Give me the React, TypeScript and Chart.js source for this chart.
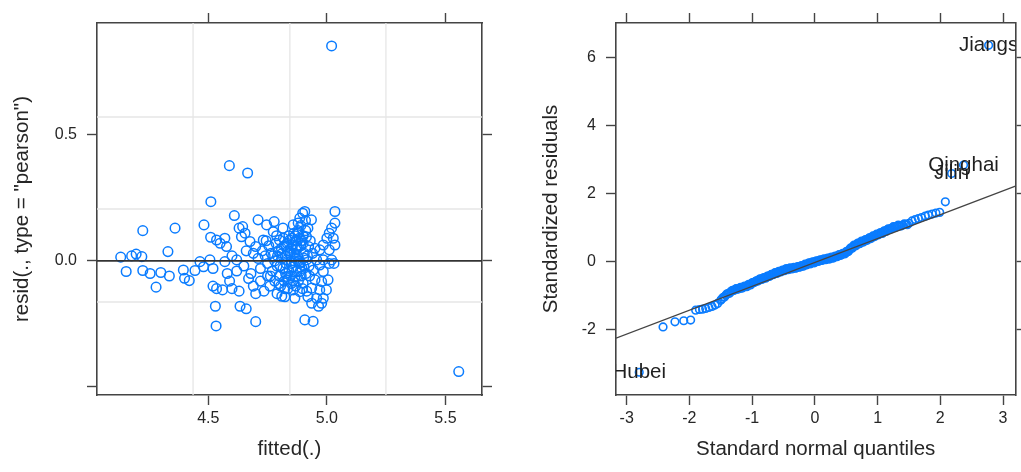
import React, { useEffect, useRef } from 'react';
import { Chart, registerables } from 'chart.js';

Chart.register(...registerables);

// ---------------- Left panel: resid(., type = "pearson") vs fitted(.) ----------------
const fittedValues: number[] = [
  4.131, 4.154, 4.177, 4.196, 4.220, 4.224, 4.224, 4.255, 4.280, 4.300,
  4.336, 4.330, 4.360, 4.395, 4.400, 4.420, 4.444, 4.465, 4.480, 4.482,
  4.507, 4.510, 4.511, 4.520, 4.530, 4.533, 4.535, 4.535, 4.520, 4.550,
  4.560, 4.570, 4.577, 4.570, 4.589, 4.600, 4.580, 4.590, 4.600, 4.610,
  4.620, 4.620, 4.630, 4.630, 4.634, 4.640, 4.645, 4.650, 4.655, 4.660,
  4.666, 4.660, 4.670, 4.676, 4.680, 4.690, 4.690, 4.700, 4.700, 4.700,
  4.710, 4.710, 4.720, 4.720,
  4.732, 4.735, 4.740, 4.746, 4.750, 4.750, 4.755, 4.760, 4.765, 4.770,
  4.774, 4.778, 4.780, 4.780, 4.785, 4.790, 4.790, 4.795, 4.800, 4.800,
  4.805, 4.810, 4.810, 4.815, 4.815, 4.820, 4.820, 4.823, 4.825, 4.830,
  4.830, 4.830, 4.835, 4.840, 4.840, 4.844, 4.845, 4.850, 4.850,
  4.855, 4.858, 4.858, 4.858, 4.860, 4.862, 4.865, 4.865, 4.870, 4.870,
  4.872, 4.875, 4.878, 4.880, 4.880, 4.882, 4.886, 4.886, 4.886, 4.890,
  4.890, 4.895, 4.898, 4.900, 4.900, 4.900, 4.905, 4.907, 4.907, 4.910,
  4.912, 4.914, 4.914, 4.915, 4.920, 4.920, 4.923, 4.925, 4.930, 4.935,
  4.936, 4.936, 4.940, 4.942, 4.943, 4.950, 4.950,
  4.957, 4.957, 4.965, 4.970, 4.970, 4.970, 4.978, 4.978, 4.985, 4.985,
  4.985, 4.985, 4.998, 5.000, 5.005, 5.010, 5.010, 5.010, 5.020, 5.020,
  5.020, 5.027, 5.034, 5.034, 5.034, 5.030,
  5.556,
  4.868, 4.876, 4.884, 4.892, 4.902, 4.848, 4.838, 4.826, 4.812, 4.798,
  4.788, 4.772, 4.762, 4.744, 4.728,
  4.792, 4.803, 4.817, 4.828, 4.836, 4.847, 4.853, 4.861, 4.869, 4.874,
  4.881, 4.888, 4.894, 4.903, 4.911, 4.918, 4.927, 4.808, 4.833, 4.857,
  4.879, 4.897, 4.866, 4.851, 4.822,
];

const residValues: number[] = [
  0.015, -0.042, 0.020, 0.027, 0.017, 0.120, -0.038, -0.050, -0.104, -0.046,
  -0.060, 0.037, 0.130, -0.036, -0.069, -0.078, -0.038, -0.003, -0.023, 0.143,
  0.004, 0.094, 0.235, -0.100, -0.180, -0.258, 0.083, -0.110, -0.030, 0.070,
  -0.115, 0.090, 0.057, -0.003, 0.378, -0.110, -0.050, -0.080, 0.020, 0.180,
  0.004, -0.040, 0.130, -0.120, -0.180, 0.096, 0.136, -0.020, 0.110, -0.190,
  0.349, 0.040, -0.070, 0.077, -0.050, 0.030, -0.100, 0.057, -0.130, -0.241,
  0.163, 0.010, -0.030, -0.080,
  0.083, -0.120, 0.020, 0.143, -0.010, -0.060, 0.060, -0.100, 0.030, -0.040,
  0.116, 0.156, -0.080, 0.000, 0.070, -0.130, -0.020, 0.040, 0.083, -0.060,
  -0.100, 0.010, -0.140, 0.130, -0.030, 0.060, -0.080, -0.142, 0.020, 0.057,
  0.004, -0.062, -0.110, 0.100, -0.040, 0.083, 0.030, -0.010, -0.090,
  0.060, 0.143, -0.023, -0.115, 0.110, 0.000, -0.062, -0.148, 0.044, 0.080,
  -0.040, 0.020, 0.120, 0.110, -0.080, -0.010, 0.170, -0.010, -0.122, 0.060,
  0.140, -0.030, 0.189, 0.070, -0.089, 0.100, 0.030, 0.196, -0.234, 0.160,
  -0.050, 0.096, 0.004, -0.120, 0.130, -0.142, 0.057, -0.020, 0.080, 0.163,
  -0.108, -0.168, 0.030, -0.240, -0.036, -0.075, 0.050,
  0.004, -0.148, -0.180, 0.044, -0.016, -0.115, -0.082, -0.168, 0.063, 0.004,
  -0.042, -0.148, -0.115, 0.090, -0.075, 0.110, 0.044, -0.010, 0.130, 0.004,
  0.853, 0.090, 0.150, 0.063, 0.196, -0.010,
  -0.439,
  0.010, 0.050, 0.090, -0.060, 0.012, 0.050, -0.070, -0.050, 0.030, -0.090,
  0.100, 0.020, -0.060, 0.080, 0.040,
  0.020, -0.020, 0.090, -0.010, 0.040, -0.060, 0.090, 0.030, -0.100, 0.060,
  0.000, -0.040, 0.080, -0.020, 0.120, 0.020, -0.060, 0.050, 0.070, -0.080,
  0.150, -0.110, 0.100, 0.000, -0.110,
];

const residXRange = [4.031, 5.654];
const residYRange = [-0.532, 0.944];
const residXTicks = [4.5, 5.0, 5.5];
const residXTickLabels = ['4.5', '5.0', '5.5'];
const residYTicks = [-0.5, 0.0, 0.5];
const residYTickLabels = ['', '0.0', '0.5'];
const residGridX = [4.436, 4.844, 5.249];
const residGridY = [-0.163, 0.206, 0.571];
const residRefLineY = 0;

// ---------------- Right panel: normal QQ plot of standardized residuals ----------------
const qqTheoretical: number[] = [
  -2.80, -2.42, -2.23, -2.09, -1.98, -1.90, -1.84, -1.79, -1.74, -1.69,
  -1.64, -1.59, -1.55, -1.50, -1.46, -1.42, -1.38, -1.34, -1.31, -1.27,
  -1.24, -1.20, -1.17, -1.14, -1.10, -1.07, -1.04, -1.01, -0.98, -0.95,
  -0.92, -0.89, -0.86, -0.83, -0.80, -0.77, -0.74, -0.71, -0.68, -0.65,
  -0.62, -0.59, -0.56, -0.53, -0.50, -0.47, -0.44, -0.41, -0.38, -0.35,
  -0.32, -0.29, -0.26, -0.23, -0.20, -0.17, -0.14, -0.11, -0.08, -0.05,
  -0.02, 0.01, 0.04, 0.07, 0.10, 0.13, 0.16, 0.19, 0.22, 0.25,
  0.28, 0.31, 0.34, 0.37, 0.40, 0.43, 0.46, 0.49, 0.52, 0.55,
  0.58, 0.61, 0.64, 0.67, 0.70, 0.73, 0.76, 0.79, 0.82, 0.85,
  0.88, 0.91, 0.94, 0.97, 1.00, 1.03, 1.06, 1.09, 1.12, 1.15,
  1.19, 1.23, 1.27, 1.31, 1.35, 1.40, 1.45, 1.50, 1.55, 1.60,
  1.65, 1.70, 1.76, 1.81, 1.87, 1.93, 1.99, 2.08, 2.18, 2.37,
  2.77,
  -1.485, -1.44, -1.40, -1.36, -1.325, -1.29, -1.255, -1.22, -1.185, -1.155,
  -1.12, -1.085, -1.055, -1.025, -0.995, -0.965, -0.935, -0.905, -0.875, -0.845,
  -0.815, -0.785, -0.755, -0.725, -0.695, -0.665, -0.635, -0.605, -0.575, -0.545,
  -0.515, -0.485, -0.455, -0.425, -0.395, -0.365, -0.335, -0.305, -0.275, -0.245,
  -0.215, -0.185, -0.155, -0.125, -0.095, -0.065, -0.035, -0.005, 0.025, 0.055,
  0.085, 0.115, 0.145, 0.175, 0.205, 0.235, 0.265, 0.295, 0.325, 0.355,
  0.385, 0.415, 0.445, 0.475, 0.505, 0.535, 0.565, 0.595, 0.625, 0.655,
  0.685, 0.715, 0.745, 0.775, 0.805, 0.835, 0.865, 0.895, 0.925, 0.955,
  0.985, 1.015, 1.045, 1.075, 1.105, 1.135, 1.17, 1.21, 1.25, 1.29,
  1.33, 1.375, 1.425, 1.475,
];

const qqStdResid: number[] = [
  -3.24, -1.91, -1.76, -1.73, -1.71, -1.42, -1.40, -1.39, -1.37, -1.34,
  -1.31, -1.27, -1.22, -1.13, -1.04, -0.98, -0.93, -0.88, -0.84, -0.81,
  -0.80, -0.78, -0.76, -0.74, -0.72, -0.70, -0.67, -0.64, -0.61, -0.58,
  -0.56, -0.53, -0.51, -0.49, -0.47, -0.45, -0.42, -0.40, -0.37, -0.35,
  -0.33, -0.31, -0.29, -0.27, -0.25, -0.23, -0.22, -0.21, -0.20, -0.19,
  -0.18, -0.17, -0.15, -0.14, -0.12, -0.10, -0.08, -0.06, -0.04, -0.03,
  -0.01, 0.00, 0.02, 0.03, 0.05, 0.06, 0.07, 0.08, 0.10, 0.11,
  0.12, 0.14, 0.16, 0.18, 0.20, 0.22, 0.24, 0.26, 0.30, 0.35,
  0.40, 0.45, 0.48, 0.51, 0.54, 0.57, 0.60, 0.62, 0.64, 0.67,
  0.70, 0.72, 0.75, 0.78, 0.80, 0.82, 0.84, 0.87, 0.90, 0.93,
  0.96, 0.99, 1.02, 1.04, 1.06, 1.08, 1.10, 1.13, 1.20, 1.24,
  1.27, 1.30, 1.34, 1.37, 1.40, 1.43, 1.45, 1.76, 2.59, 2.84,
  6.35,
  -1.09, -1.03, -0.94, -0.92, -0.85, -0.84, -0.79, -0.80, -0.75, -0.77,
  -0.71, -0.73, -0.66, -0.68, -0.61, -0.61, -0.56, -0.56, -0.50, -0.52,
  -0.46, -0.48, -0.42, -0.43, -0.37, -0.38, -0.32, -0.34, -0.28, -0.30,
  -0.24, -0.26, -0.20, -0.23, -0.18, -0.21, -0.16, -0.19, -0.14, -0.16,
  -0.11, -0.13, -0.07, -0.09, -0.03, -0.06, 0.00, -0.03, 0.03, 0.01,
  0.06, 0.04, 0.09, 0.06, 0.11, 0.08, 0.14, 0.11, 0.17, 0.15,
  0.21, 0.19, 0.25, 0.23, 0.31, 0.30, 0.40, 0.40, 0.49, 0.47,
  0.55, 0.53, 0.61, 0.58, 0.65, 0.63, 0.70, 0.68, 0.76, 0.74,
  0.81, 0.79, 0.86, 0.83, 0.91, 0.89, 0.97, 0.96, 1.03, 1.01,
  1.08, 1.05, 1.11, 1.09,
];

const qqLabelNames = ['Hubei', 'Jilin', 'Qinghai', 'Jiangs'];
const qqLabelX = [-2.80, 2.18, 2.37, 2.77];
const qqLabelY = [-3.24, 2.59, 2.84, 6.35];

const qqXRange = [-3.17, 3.197];
const qqYRange = [-3.908, 7.006];
const qqXTicks = [-3, -2, -1, 0, 1, 2, 3];
const qqXTickLabels = ['-3', '-2', '-1', '0', '1', '2', '3'];
const qqYTicks = [-2, 0, 2, 4, 6];
const qqYTickLabels = ['-2', '0', '2', '4', '6'];
const qqLineIntercept = -0.02;
const qqLineSlope = 0.70;

// ---------------- styling ----------------
const FONT_FAMILY = "'Liberation Sans', Arial, Helvetica, sans-serif";
const AXIS_COLOR = '#444444';
const TEXT_COLOR = '#262626';
const POINT_COLOR = '#0a7cff';
const GRID_COLOR = '#e6e6e6';

type AxisOpts = {
  position: 'left' | 'right' | 'top' | 'bottom';
  range: number[];
  ticks: number[];
  labels?: string[];
  size: number;
  title?: string;
  titlePad?: { top: number; bottom: number };
};

function axis(o: AxisOpts): any {
  const horizontal = o.position === 'top' || o.position === 'bottom';
  return {
    type: 'linear',
    position: o.position,
    min: o.range[0],
    max: o.range[1],
    afterBuildTicks: (s: any) => {
      s.ticks = o.ticks.map((v) => ({ value: v }));
    },
    afterFit: (s: any) => {
      if (horizontal) s.height = o.size;
      else s.width = o.size;
    },
    grid: {
      display: true,
      drawOnChartArea: false,
      drawTicks: true,
      tickLength: 10,
      tickColor: AXIS_COLOR,
      tickWidth: 1.4,
    },
    border: { display: true, color: AXIS_COLOR, width: 1.6 },
    ticks: {
      display: !!o.labels,
      autoSkip: false,
      maxRotation: 0,
      minRotation: 0,
      padding: horizontal ? 4 : 10,
      color: TEXT_COLOR,
      font: { family: FONT_FAMILY, size: 16 },
      callback: (_v: any, i: number) => (o.labels ? o.labels[i] : ''),
    },
    title: o.title
      ? {
          display: true,
          text: o.title,
          color: TEXT_COLOR,
          font: { family: FONT_FAMILY, size: 20.5 },
          padding: o.titlePad,
        }
      : { display: false },
  };
}

const gridPlugin = {
  id: 'panelGrid',
  beforeDatasetsDraw(chart: any) {
    const { ctx, chartArea, scales } = chart;
    ctx.save();
    ctx.strokeStyle = GRID_COLOR;
    ctx.lineWidth = 1.3;
    residGridX.forEach((v) => {
      const px = scales.x.getPixelForValue(v);
      ctx.beginPath();
      ctx.moveTo(px, chartArea.top);
      ctx.lineTo(px, chartArea.bottom);
      ctx.stroke();
    });
    residGridY.forEach((v) => {
      const py = scales.y.getPixelForValue(v);
      ctx.beginPath();
      ctx.moveTo(chartArea.left, py);
      ctx.lineTo(chartArea.right, py);
      ctx.stroke();
    });
    ctx.restore();
  },
};

const labelPlugin = {
  id: 'pointLabels',
  afterDatasetsDraw(chart: any) {
    const { ctx, chartArea, scales } = chart;
    ctx.save();
    ctx.beginPath();
    ctx.rect(chartArea.left, chartArea.top, chartArea.right - chartArea.left, chartArea.bottom - chartArea.top);
    ctx.clip();
    ctx.font = `20.5px ${FONT_FAMILY}`;
    ctx.fillStyle = '#1f1f1f';
    ctx.textAlign = 'center';
    ctx.textBaseline = 'middle';
    qqLabelNames.forEach((name, i) => {
      ctx.fillText(name, scales.x.getPixelForValue(qqLabelX[i]), scales.y.getPixelForValue(qqLabelY[i]));
    });
    ctx.restore();
  },
};

const baseOptions = {
  responsive: false,
  maintainAspectRatio: false,
  animation: false,
  events: [] as any[],
  layout: { padding: 0 },
  plugins: { legend: { display: false }, tooltip: { enabled: false } },
};

function residConfig(): any {
  return {
    type: 'scatter',
    data: {
      datasets: [
        {
          data: residXRange.map((x) => ({ x, y: residRefLineY })),
          showLine: true,
          borderColor: '#333333',
          borderWidth: 1.7,
          pointRadius: 0,
          xAxisID: 'x',
          yAxisID: 'y',
        },
        {
          data: fittedValues.map((x, i) => ({ x, y: residValues[i] })),
          pointRadius: 4.8,
          pointBorderWidth: 1.5,
          borderColor: POINT_COLOR,
          backgroundColor: 'rgba(0,0,0,0)',
          pointBackgroundColor: 'rgba(0,0,0,0)',
          pointBorderColor: POINT_COLOR,
          xAxisID: 'x',
          yAxisID: 'y',
        },
      ],
    },
    options: {
      ...baseOptions,
      scales: {
        x: axis({ position: 'bottom', range: residXRange, ticks: residXTicks, labels: residXTickLabels, size: 77, title: 'fitted(.)', titlePad: { top: 0, bottom: 10 } }),
        y: axis({ position: 'left', range: residYRange, ticks: residYTicks, labels: residYTickLabels, size: 97, title: 'resid(., type = "pearson")', titlePad: { top: 10, bottom: 0 } }),
        xTop: axis({ position: 'top', range: residXRange, ticks: residXTicks, size: 23 }),
        yRight: axis({ position: 'right', range: residYRange, ticks: residYTicks, size: 28 }),
      },
    },
    plugins: [gridPlugin],
  };
}

function qqConfig(): any {
  return {
    type: 'scatter',
    data: {
      datasets: [
        {
          data: qqXRange.map((x) => ({ x, y: qqLineIntercept + qqLineSlope * x })),
          showLine: true,
          borderColor: '#444444',
          borderWidth: 1.3,
          pointRadius: 0,
          xAxisID: 'x',
          yAxisID: 'y',
        },
        {
          data: qqTheoretical.map((x, i) => ({ x, y: qqStdResid[i] })),
          pointRadius: 3.8,
          pointBorderWidth: 1.6,
          borderColor: POINT_COLOR,
          backgroundColor: 'rgba(0,0,0,0)',
          pointBackgroundColor: 'rgba(0,0,0,0)',
          pointBorderColor: POINT_COLOR,
          xAxisID: 'x',
          yAxisID: 'y',
        },
      ],
    },
    options: {
      ...baseOptions,
      scales: {
        x: axis({ position: 'bottom', range: qqXRange, ticks: qqXTicks, labels: qqXTickLabels, size: 77, title: 'Standard normal quantiles', titlePad: { top: 0, bottom: 10 } }),
        y: axis({ position: 'left', range: qqYRange, ticks: qqYTicks, labels: qqYTickLabels, size: 106, title: 'Standardized residuals', titlePad: { top: 29, bottom: 0 } }),
        xTop: axis({ position: 'top', range: qqXRange, ticks: qqXTicks, size: 23 }),
        yRight: axis({ position: 'right', range: qqYRange, ticks: qqYTicks, size: 4 }),
      },
    },
    plugins: [labelPlugin],
  };
}

function ChartCanvas({ make, width, height, left }: { make: () => any; width: number; height: number; left: number }) {
  const ref = useRef<HTMLCanvasElement>(null);
  useEffect(() => {
    const chart = new Chart(ref.current as HTMLCanvasElement, make());
    return () => chart.destroy();
  }, []);
  return (
    <canvas
      ref={ref}
      width={width}
      height={height}
      style={{ position: 'absolute', left, top: 0, width, height, display: 'block' }}
    />
  );
}

export default function App() {
  return (
    <div
      style={{
        position: 'fixed',
        left: 0,
        top: 0,
        width: 1021,
        height: 472,
        background: '#ffffff',
        overflow: 'hidden',
      }}
    >
      <ChartCanvas make={residConfig} width={510} height={472} left={0} />
      <ChartCanvas make={qqConfig} width={511} height={472} left={510} />
    </div>
  );
}
